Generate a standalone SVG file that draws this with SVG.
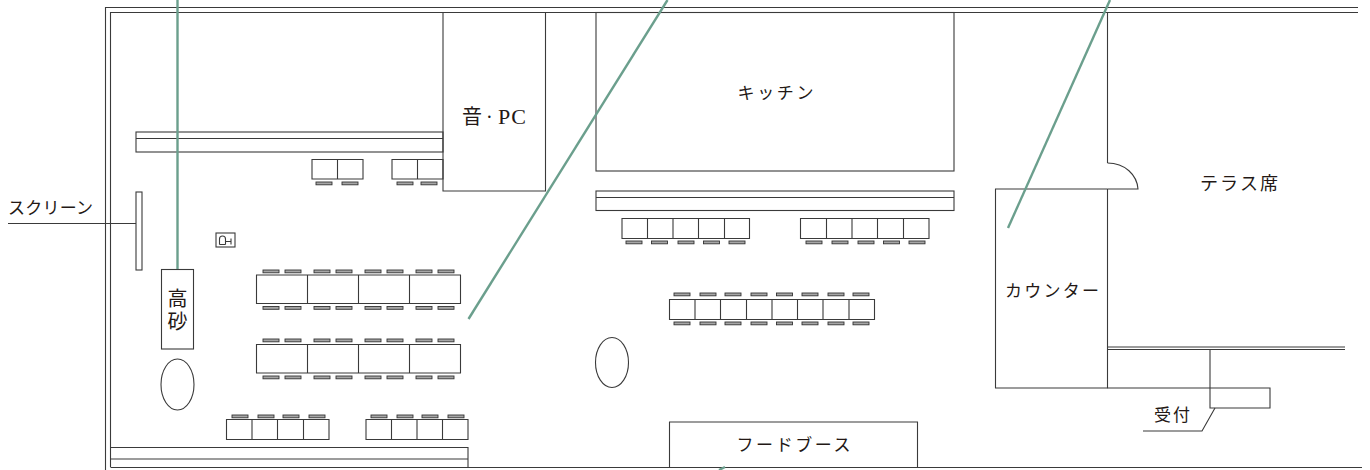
<svg xmlns="http://www.w3.org/2000/svg" width="1370" height="470" viewBox="0 0 1370 470">
<style>
.l{fill:none;stroke:#3a3a3a;stroke-width:1.1}
.w{fill:#fff;stroke:#3a3a3a;stroke-width:1.1}
.c{fill:#a6a6a6;stroke:#333;stroke-width:.9}
.g{fill:none;stroke:#6b9f8d;stroke-width:2.4}
text{font-family:"Liberation Serif","Noto Sans CJK JP",serif;fill:#231815;font-size:17px}
</style>
<defs>
<rect id="ch" class="c" width="16" height="2.800"/>
</defs>
<rect width="1370" height="470" fill="#fff"/>
<g id="walls">
<path class="l" d="M105.500 470V7.500H1358M110.500 467V12.500H1358M110.500 467.500H1362"/>
<path class="l" d="M1107.500 12.500V163M1107.500 347H1345M1107.500 349.500H1345"/>
</g>
<g id="bench-back"><rect class="w" x="136" y="132" width="307" height="20"/><path class="l" d="M136 138.500H443"/></g>
<g id="table-top-1"><path class="l" d="M312 159.500H363V179H312ZM337.500 159.500V179"/>
<use href="#ch" x="316" y="182"/><use href="#ch" x="342" y="182"/></g>
<g id="table-top-2"><path class="l" d="M392 159.500H443V179H392ZM417.500 159.500V179"/>
<use href="#ch" x="397" y="182"/><use href="#ch" x="421" y="182"/></g>
<g id="screen"><rect class="w" x="136" y="192" width="6" height="78"/></g>
<g id="mic"><rect class="l" x="216" y="233" width="19" height="14"/><path class="l" d="M219.500 244.500V239Q219.500 236 222.500 236Q225.500 236 225.500 239V244.500M219.500 244.500H225.500M225.500 241.500H231M231 238.500V244.500" stroke-width=".9"/></g>
<g id="takasago"><rect class="w" x="161.500" y="269.500" width="32" height="79.500"/>
<text x="177.500" y="306" text-anchor="middle" style="font-size:20px">高</text>
<text x="177.500" y="329" text-anchor="middle" style="font-size:20px">砂</text></g>
<g id="ellipse-left"><ellipse class="l" cx="177.500" cy="384.500" rx="16.500" ry="25.500"/></g>
<g id="long-table-1"><path class="l" d="M256.500 275H460.500V303.500H256.500ZM307.500 275V303.500M358.500 275V303.500M409.500 275V303.500"/>
<g id="chairs-a">
<use href="#ch" x="263" y="270"/><use href="#ch" x="285" y="270"/><use href="#ch" x="314" y="270"/><use href="#ch" x="336" y="270"/><use href="#ch" x="365" y="270"/><use href="#ch" x="387" y="270"/><use href="#ch" x="416" y="270"/><use href="#ch" x="438" y="270"/>
</g>
<use href="#chairs-a" y="36.500"/></g>
<g id="long-table-2"><path class="l" d="M256.500 344.500H460.500V373H256.500ZM307.500 344.500V373M358.500 344.500V373M409.500 344.500V373"/>
<use href="#chairs-a" y="69"/><use href="#chairs-a" y="106"/></g>
<g id="table-bottom-1"><path class="l" d="M226.500 419.500H329V439.500H226.500ZM252 419.500V439.500M277.500 419.500V439.500M303.500 419.500V439.500"/>
<use href="#ch" x="232" y="415"/><use href="#ch" x="258" y="415"/><use href="#ch" x="283" y="415"/><use href="#ch" x="309" y="415"/></g>
<g id="table-bottom-2"><path class="l" d="M366 419.500H468V439.500H366ZM391.500 419.500V439.500M417 419.500V439.500M442.500 419.500V439.500"/>
<use href="#ch" x="371" y="415"/><use href="#ch" x="397" y="415"/><use href="#ch" x="422" y="415"/><use href="#ch" x="448" y="415"/></g>
<g id="bench-bottom"><path class="l" d="M110.500 447.500H468V467M110.500 459H468"/></g>
<g id="sound-pc"><path class="l" d="M443 12.500V191H545.500V12.500"/>
<text x="462" y="124" style="font-size:20px">音<tspan x="486" style="font-size:20px">·</tspan><tspan x="498" y="124" style="font-size:22px" letter-spacing="1">PC</tspan></text></g>
<g id="kitchen"><rect class="l" x="596" y="12.500" width="358" height="158.500"/>
<text x="775.500" y="99" text-anchor="middle" textLength="76" style="font-size:17px">キッチン</text></g>
<g id="bench-kitchen"><rect class="w" x="596" y="191" width="358" height="19.500"/><path class="l" d="M596 197.500H954"/></g>
<g id="table-kitchen-1"><path class="l" d="M622 218.500H749.500V238.500H622ZM647.500 218.500V238.500M673 218.500V238.500M698.500 218.500V238.500M724.500 218.500V238.500"/>
<use href="#ch" x="626" y="241"/><use href="#ch" x="651.500" y="241"/><use href="#ch" x="678" y="241"/><use href="#ch" x="703.500" y="241"/><use href="#ch" x="729" y="241"/></g>
<g id="table-kitchen-2"><path class="l" d="M800.500 218.500H929V238.500H800.500ZM826.500 218.500V238.500M852 218.500V238.500M877.500 218.500V238.500M903.500 218.500V238.500"/>
<use href="#ch" x="806" y="241"/><use href="#ch" x="832" y="241"/><use href="#ch" x="858" y="241"/><use href="#ch" x="883.500" y="241"/><use href="#ch" x="909" y="241"/></g>
<g id="table-mid"><path class="l" d="M669.500 299.500H874.500V319.500H669.500ZM695 299.500V319.500M720.500 299.500V319.500M746.500 299.500V319.500M772 299.500V319.500M797.500 299.500V319.500M823 299.500V319.500M849 299.500V319.500"/>
<g id="chairs-b"><use href="#ch" x="674" y="293"/><use href="#ch" x="700" y="293"/><use href="#ch" x="725" y="293"/><use href="#ch" x="751" y="293"/><use href="#ch" x="776.500" y="293"/><use href="#ch" x="802" y="293"/><use href="#ch" x="828" y="293"/><use href="#ch" x="853" y="293"/></g>
<use href="#chairs-b" y="29"/></g>
<g id="ellipse-mid"><ellipse class="l" cx="612" cy="362.500" rx="16.500" ry="25"/></g>
<g id="food-booth"><path class="l" d="M669.500 467V422H917.500V467"/>
<text x="793.500" y="451" text-anchor="middle" textLength="114" style="font-size:17px">フードブース</text></g>
<g id="counter"><path class="l" d="M1107.500 189H995.500V388H1107.500V189"/>
<text x="1052" y="297" text-anchor="middle" textLength="94" style="font-size:17px">カウンター</text></g>
<g id="door"><path class="l" d="M1107.500 189H1138C1137 175 1125 163 1107.500 163"/></g>
<g id="terrace"><text x="1239" y="190" text-anchor="middle" textLength="78" style="font-size:18px">テラス席</text></g>
<g id="reception"><path class="l" d="M1107.500 388H1270V408H1210V349"/>
<text x="1172" y="421" text-anchor="middle" textLength="36" style="font-size:17px">受付</text></g>
<g id="screen-label"><text x="50.500" y="213.500" text-anchor="middle" textLength="85" style="font-size:17px">スクリーン</text></g>
<g id="connectors">
<path class="l" d="M8 223.500H136"/>
<path class="l" d="M1143 431H1202L1215 408"/>
<path class="g" d="M177.500 0V269"/>
<path class="g" d="M667.500 0L468.500 319"/>
<path class="g" d="M1110 0L1008 228"/>
<path class="g" d="M725 467L719 470"/>
</g>
</svg>
